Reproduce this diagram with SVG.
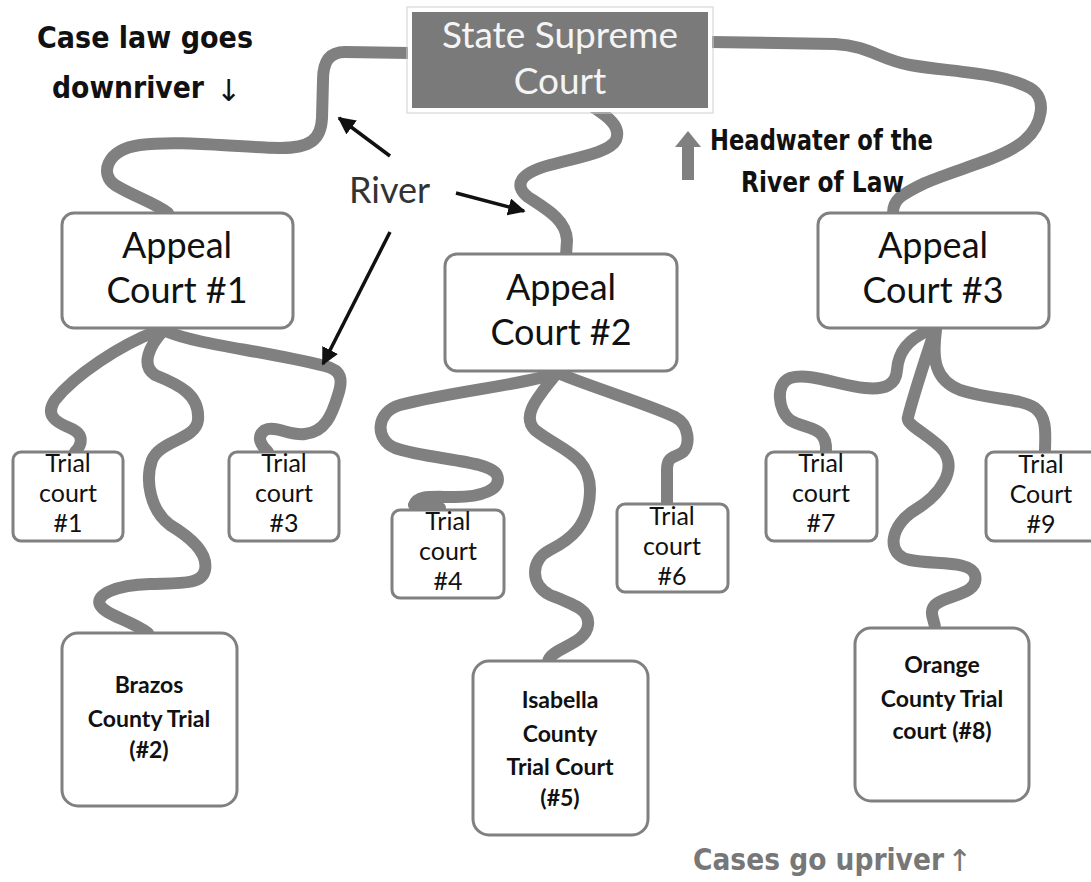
<svg xmlns="http://www.w3.org/2000/svg" width="1091" height="882" viewBox="0 0 1091 882">
<style>
.river{fill:none;stroke:#808080;stroke-width:12;stroke-linecap:round;stroke-linejoin:round}
.box{fill:#fff;stroke:#808080;stroke-width:3}
.t{font-family:Lato,'Open Sans',sans-serif;fill:#111;text-anchor:middle}
.ap{font-size:36px}
.tr{font-size:25px}
.cb{font-size:23px;font-weight:bold}
.cond{font-family:'DejaVu Sans Condensed','DejaVu Sans',sans-serif;font-stretch:condensed;font-weight:bold;fill:#111}
.sym{font-family:'DejaVu Sans',sans-serif;font-size:30px}
.arr{stroke:#111;stroke-width:3.5;fill:none}
</style>
<defs>
<marker id="ah" viewBox="0 0 10 10" refX="9" refY="5" markerWidth="5" markerHeight="5" orient="auto" markerUnits="strokeWidth">
<path d="M0,0 L10,5 L0,10 z" fill="#111"/>
</marker>
</defs>
<rect width="1091" height="882" fill="#fff"/>
<g id="connectors">
<path class="river" d="M410,53 L345,52 C327,52 323,65 323,80 L322,118 C321,140 310,148 280,148 C230,147 180,140 140,145 C105,150 100,175 115,185 C135,197 155,203 168,213"/>
<path class="river" d="M590,105 C605,115 622,125 616,140 C610,152 580,157 550,165 C520,173 513,185 528,197 C548,210 566,220 567,240 L566,256"/>
<path class="river" d="M710,42 L835,44 C870,46 880,60 910,65 C950,72 1000,72 1030,88 C1048,98 1042,125 1025,140 C1005,158 960,168 925,183 C900,195 893,200 893,213"/>
<path class="river" d="M157,331 C120,345 75,375 55,400 C45,415 55,422 70,428 C85,434 82,445 75,452"/>
<path class="river" d="M163,331 C150,345 140,365 155,375 C180,385 200,395 198,420 C196,440 160,440 152,460 C145,480 150,510 170,525 C195,540 208,555 205,570 C202,585 180,583 150,584 C115,585 95,595 100,605 C105,615 130,620 148,633"/>
<path class="river" d="M168,332 C200,345 260,350 325,366 C342,370 343,380 338,395 C332,415 325,432 305,434 C290,436 275,425 265,430 C255,437 262,446 268,452"/>
<path class="river" d="M555,374 C520,385 450,392 400,405 C375,412 375,440 395,448 C430,460 490,460 497,475 C503,490 480,497 455,497 C430,497 418,495 414,505 L440,508"/>
<path class="river" d="M556,374 C540,395 520,415 535,430 C560,450 590,455 590,490 C590,525 570,540 550,550 C530,560 530,585 550,595 C575,605 590,610 588,625 C586,645 550,648 548,662"/>
<path class="river" d="M560,374 C600,390 650,405 675,417 C690,425 690,445 683,452 C675,458 667,455 667,470 L667,505"/>
<path class="river" d="M930,330 C905,340 898,355 897,370 C896,385 885,390 865,388 C840,386 810,372 790,378 C775,384 778,410 790,420 C805,430 828,425 826,452"/>
<path class="river" d="M935,330 C925,360 915,390 908,417 C905,425 930,435 943,450 C958,470 940,495 915,510 C890,525 885,555 910,560 C935,565 970,560 975,575 C980,595 945,595 935,605 C928,613 935,620 935,628"/>
<path class="river" d="M936,330 C932,360 935,380 960,390 C990,400 1020,398 1035,408 C1048,418 1045,435 1045,452"/>
<line class="arr" x1="390" y1="156" x2="339" y2="118" marker-end="url(#ah)"/>
<line class="arr" x1="456" y1="193" x2="524" y2="211" marker-end="url(#ah)"/>
<line class="arr" x1="390" y1="232" x2="323" y2="364" marker-end="url(#ah)"/>
</g>
<g id="supreme">
<rect x="407" y="7" width="306" height="106" fill="none" stroke="#cfcfcf" stroke-width="1"/>
<rect x="410" y="10" width="300" height="100" fill="#7a7a7a" stroke="#fff" stroke-width="4"/>
<text class="t" x="560" y="48" font-size="37" style="fill:#f4f4f4">State Supreme</text>
<text class="t" x="560" y="94" font-size="37" style="fill:#f4f4f4">Court</text>
</g>
<g id="appeal1">
<rect class="box" x="62" y="213" width="231" height="115" rx="12"/>
<text class="t ap" x="177" y="258">Appeal</text>
<text class="t ap" x="177" y="303">Court #1</text>
</g>
<g id="appeal2">
<rect class="box" x="445" y="254" width="232" height="117" rx="12"/>
<text class="t ap" x="561" y="300">Appeal</text>
<text class="t ap" x="561" y="345">Court #2</text>
</g>
<g id="appeal3">
<rect class="box" x="818" y="213" width="231" height="115" rx="12"/>
<text class="t ap" x="933" y="258">Appeal</text>
<text class="t ap" x="933" y="303">Court #3</text>
</g>
<g id="trial1">
<rect class="box" x="13" y="452" width="110" height="89" rx="8"/>
<text class="t tr" x="68" y="472">Trial</text>
<text class="t tr" x="68" y="502">court</text>
<text class="t tr" x="68" y="532">#1</text>
</g>
<g id="trial3">
<rect class="box" x="229" y="452" width="110" height="89" rx="8"/>
<text class="t tr" x="284" y="472">Trial</text>
<text class="t tr" x="284" y="502">court</text>
<text class="t tr" x="284" y="532">#3</text>
</g>
<g id="trial4">
<rect class="box" x="392" y="510" width="112" height="88" rx="8"/>
<text class="t tr" x="448" y="530">Trial</text>
<text class="t tr" x="448" y="560">court</text>
<text class="t tr" x="448" y="590">#4</text>
</g>
<g id="trial6">
<rect class="box" x="617" y="504" width="111" height="88" rx="8"/>
<text class="t tr" x="672" y="525">Trial</text>
<text class="t tr" x="672" y="555">court</text>
<text class="t tr" x="672" y="585">#6</text>
</g>
<g id="trial7">
<rect class="box" x="766" y="452" width="111" height="89" rx="8"/>
<text class="t tr" x="821" y="472">Trial</text>
<text class="t tr" x="821" y="502">court</text>
<text class="t tr" x="821" y="532">#7</text>
</g>
<g id="trial9">
<rect class="box" x="986" y="452" width="112" height="89" rx="8"/>
<text class="t tr" x="1041" y="473">Trial</text>
<text class="t tr" x="1041" y="503">Court</text>
<text class="t tr" x="1041" y="533">#9</text>
</g>
<g id="brazos">
<rect class="box" x="62" y="633" width="175" height="173" rx="16"/>
<text class="t cb" x="149" y="693">Brazos</text>
<text class="t cb" x="149" y="727">County Trial</text>
<text class="t cb" x="149" y="758">(#2)</text>
</g>
<g id="isabella">
<rect class="box" x="473" y="661" width="175" height="174" rx="16"/>
<text class="t cb" x="560" y="708">Isabella</text>
<text class="t cb" x="560" y="742">County</text>
<text class="t cb" x="560" y="775">Trial Court</text>
<text class="t cb" x="560" y="806">(#5)</text>
</g>
<g id="orange">
<rect class="box" x="855" y="628" width="174" height="173" rx="16"/>
<text class="t cb" x="942" y="673">Orange</text>
<text class="t cb" x="942" y="707">County Trial</text>
<text class="t cb" x="942" y="739">court (#8)</text>
</g>
<g id="labels">
<text class="cond" x="37" y="48" font-size="30" textLength="216" lengthAdjust="spacingAndGlyphs">Case law goes</text>
<text class="cond" x="52" y="98" font-size="30" textLength="152" lengthAdjust="spacingAndGlyphs">downriver</text>
<text class="sym" x="216" y="101" fill="#111">↓</text>
<text x="349" y="203" font-family="Lato,'Open Sans',sans-serif" font-size="36" fill="#333">River</text>
<text class="cond" x="710" y="150" font-size="28" textLength="223" lengthAdjust="spacingAndGlyphs">Headwater of the</text>
<text class="cond" x="741" y="192" font-size="28" textLength="163" lengthAdjust="spacingAndGlyphs">River of Law</text>
<path d="M682,180 L682,147 L675,147 L688,131 L701,147 L694,147 L694,180 Z" fill="#808080"/>
<text class="cond" x="693" y="870" font-size="30" textLength="251" lengthAdjust="spacingAndGlyphs" style="fill:#777">Cases go upriver</text>
<text class="sym" x="947" y="871" fill="#777">↑</text>
</g>
</svg>
